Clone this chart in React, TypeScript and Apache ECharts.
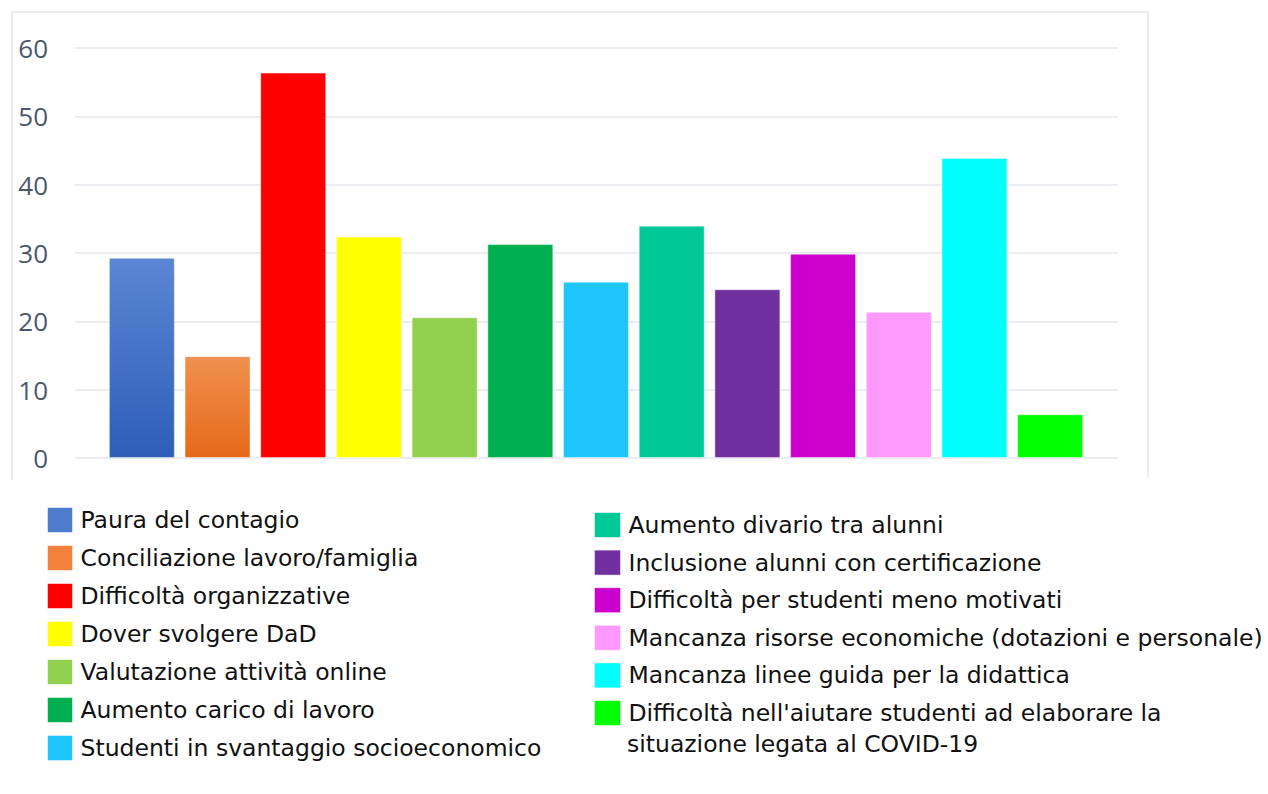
import React, { useEffect, useRef } from "react";
import * as echarts from "echarts";

const categories = [
  "Paura del contagio",
  "Conciliazione lavoro/famiglia",
  "Difficoltà organizzative",
  "Dover svolgere DaD",
  "Valutazione attività online",
  "Aumento carico di lavoro",
  "Studenti in svantaggio socioeconomico",
  "Aumento divario tra alunni",
  "Inclusione alunni con certificazione",
  "Difficoltà per studenti meno motivati",
  "Mancanza risorse economiche (dotazioni e personale)",
  "Mancanza linee guida per la didattica",
  "Difficoltà nell'aiutare studenti ad elaborare la situazione legata al COVID-19",
];

const values = [29.3, 14.9, 56.4, 32.4, 20.6, 31.3, 25.8, 34.0, 24.7, 29.9, 21.4, 43.9, 6.4];

const colors = [
  "#4f7ccc",
  "#f4823c",
  "#ff0000",
  "#ffff00",
  "#92d050",
  "#00b050",
  "#1fc5fd",
  "#00c897",
  "#7030a0",
  "#cc00cc",
  "#ff99ff",
  "#00ffff",
  "#00ff00",
];

const gradients: Record<number, [string, string]> = {
  0: ["#5b86d4", "#2e5eb8"],
  1: ["#f0904f", "#e6691a"],
};

const yTicks = { min: 0, max: 60, interval: 10 };

const legendLabel = (name: string) =>
  name.startsWith("Difficoltà nell'aiutare")
    ? "Difficoltà nell'aiutare studenti ad elaborare la"
    : name;

export default function App() {
  const ref = useRef<HTMLDivElement>(null);
  useEffect(() => {
    if (!ref.current) return;
    const chart = echarts.init(ref.current, undefined, { renderer: "svg" });
    const legendText = {
      fontFamily: "DejaVu Sans",
      fontSize: 23.5,
      color: "#111111",
      lineHeight: 25,
      padding: [0, 0, 0, 3],
    };
    const series = categories.map((name, i) => {
      const g = gradients[i];
      const color = g
        ? new echarts.graphic.LinearGradient(0, 0, 0, 1, [
            { offset: 0, color: g[0] },
            { offset: 1, color: g[1] },
          ])
        : colors[i];
      return {
        type: "bar",
        name,
        xAxisIndex: 1,
        yAxisIndex: 1,
        stack: "all",
        barWidth: 66,
        itemStyle: { color, borderColor: "rgba(255,255,255,0.45)", borderWidth: 1 },
        data: categories.map((_, j) => (j === i ? values[i] : "-")),
      };
    });
    chart.setOption({
      animation: false,
      backgroundColor: "#ffffff",
      grid: [
        { left: 75, top: 48, width: 1043, height: 410 },
        { left: 104, top: 48, width: 984, height: 410 },
      ],
      xAxis: [
        { gridIndex: 0, type: "category", data: categories, show: false },
        { gridIndex: 1, type: "category", data: categories, show: false },
      ],
      yAxis: [
        {
          gridIndex: 0,
          type: "value",
          min: yTicks.min,
          max: yTicks.max,
          interval: yTicks.interval,
          axisLine: { show: false },
          axisTick: { show: false },
          splitLine: { lineStyle: { color: "#e2e7ee", width: 1.5 } },
          axisLabel: {
            fontFamily: "Open Sans",
            fontSize: 26,
            color: "#4a586b",
            margin: 27,
          },
        },
        {
          gridIndex: 1,
          type: "value",
          min: yTicks.min,
          max: yTicks.max,
          interval: yTicks.interval,
          show: false,
          splitLine: { show: false },
        },
      ],
      legend: [
        {
          orient: "vertical",
          left: 47,
          top: 507,
          padding: 0,
          itemWidth: 25,
          itemHeight: 25,
          itemGap: 12,
          icon: "rect",
          selectedMode: false,
          textStyle: legendText,
          formatter: legendLabel,
          data: categories.slice(0, 7).map((n, i) => ({
            name: n,
            itemStyle: { color: colors[i], borderColor: "rgba(255,255,255,0.5)", borderWidth: 1 },
          })),
        },
        {
          orient: "vertical",
          left: 594,
          top: 512,
          padding: 0,
          itemWidth: 26,
          itemHeight: 25,
          itemGap: 11.6,
          icon: "rect",
          selectedMode: false,
          textStyle: legendText,
          formatter: legendLabel,
          data: categories.slice(7).map((n, i) => ({
            name: n,
            itemStyle: { color: colors[i + 7], borderColor: "rgba(255,255,255,0.5)", borderWidth: 1 },
          })),
        },
      ],
      graphic: [
        {
          type: "polyline",
          shape: { points: [[12, 480], [12, 12], [1148, 12], [1148, 478]] },
          style: { stroke: "#e3e6ea", lineWidth: 1.5, fill: null },
          silent: true,
        },
        {
          type: "text",
          x: 627,
          y: 744,
          style: {
            text: "situazione legata al COVID-19",
            fontFamily: "DejaVu Sans",
            fontSize: 23.5,
            fill: "#111111",
            verticalAlign: "middle",
          },
          silent: true,
        },
      ],
      series,
    });
    return () => chart.dispose();
  }, []);
  return (
    <div
      ref={ref}
      style={{ position: "absolute", left: 0, top: 0, width: 1268, height: 794 }}
    />
  );
}
